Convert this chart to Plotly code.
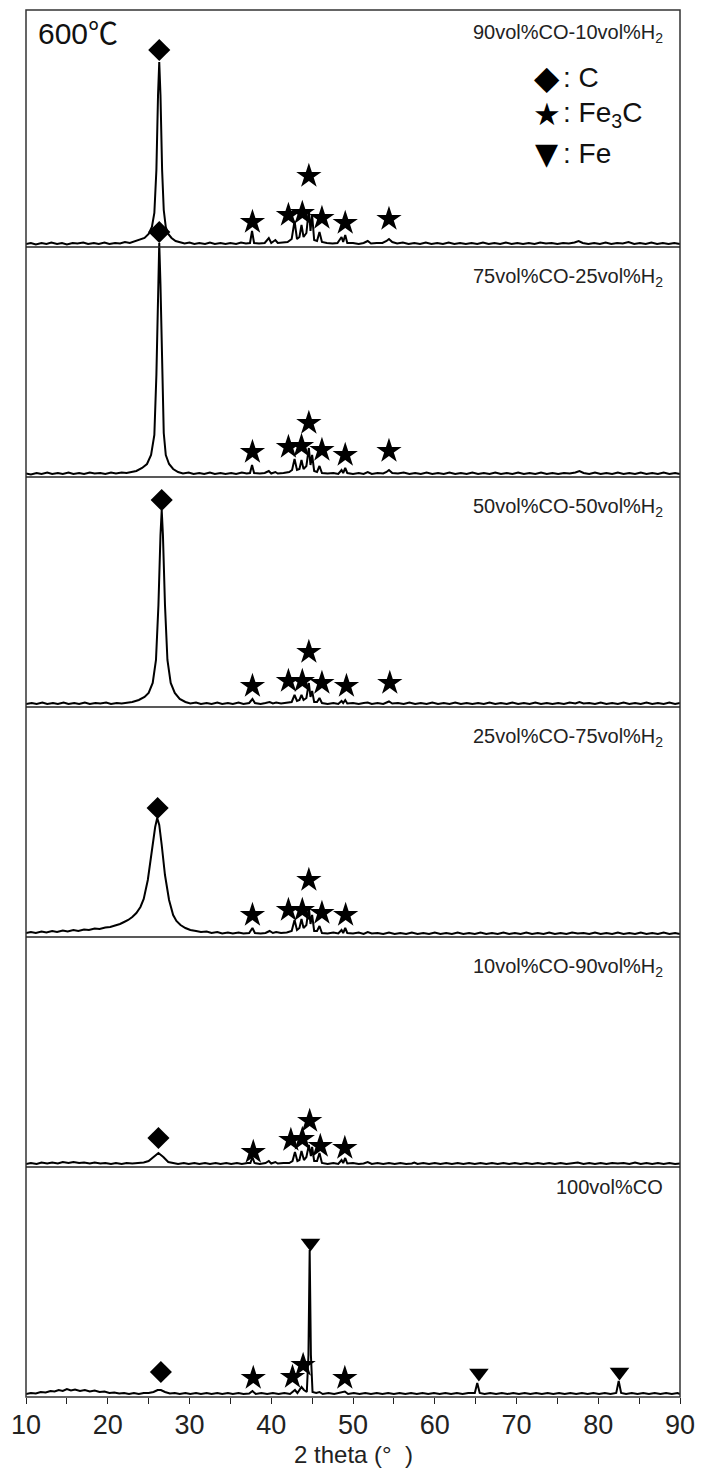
import plotly.graph_objects as go

# ---------------- data (2theta, intensity in arbitrary units) ----------------
panel_labels = ["90vol%CO-10vol%H<sub>2</sub>", "75vol%CO-25vol%H<sub>2</sub>",
                "50vol%CO-50vol%H<sub>2</sub>", "25vol%CO-75vol%H<sub>2</sub>",
                "10vol%CO-90vol%H<sub>2</sub>", "100vol%CO"]

spec_90co = [(10,1),(10.6,2),(11.2,0.5),(11.9,2),(12.5,1),(13.1,2.5),(13.8,1),(14.4,2),(15.0,0.5),(15.7,2),
    (16.3,1.5),(17.0,2.5),(17.6,1),(18.3,2),(18.9,1),(19.6,2.5),(20.2,1),(20.9,2),(21.5,1.5),(22.1,3),
    (22.7,2),(23.3,3.5),(23.9,5),(24.5,7),(25.0,11),(25.4,18),(25.7,32),(25.95,75),(26.15,150),(26.3,183),
    (26.45,150),(26.65,75),(26.85,35),(27.1,18),(27.4,11),(27.8,7),(28.3,4),(28.8,3),(29.4,1.5),(30.0,2.5),
    (30.6,1),(31.2,2),(31.9,1),(32.5,2.5),(33.1,1),(33.8,2),(34.4,1),(35.0,2),(35.7,1),(36.3,2.5),(36.9,1.5),
    (37.4,2),(37.65,14),(37.9,2),(38.5,1.5),(39.2,2),(39.7,7),(40.0,2),(40.5,5),(40.8,2),(41.4,2.5),(42.0,3),
    (42.5,6),(42.85,24),(43.15,6),(43.45,8),(43.7,20),(43.95,8),(44.3,12),(44.6,36),(44.8,14),(45.0,30),
    (45.25,5),(45.6,4),(45.9,13),(46.2,3),(46.8,2),(47.5,1.5),(48.1,2),(48.6,8),(48.8,3),(49.05,10),(49.3,2),
    (50.0,2),(50.7,1),(51.3,2),(51.8,4),(52.2,1.5),(52.9,2),(53.6,2),(54.1,4),(54.4,6),(54.8,3),(55.4,1.5),
    (56.1,2.5),(56.8,1),(57.5,2),(58.2,1),(58.9,2.5),(59.6,1),(60.3,2),(61.0,1),(61.7,2.5),(62.4,1),(63.1,2),
    (63.8,1),(64.5,2),(65.2,1),(65.9,2.5),(66.6,1),(67.3,2),(68.0,1),(68.7,2.5),(69.4,1),(70.1,2),(70.8,1),
    (71.5,2),(72.2,1),(72.9,2.5),(73.6,1.5),(74.3,2),(75.0,1),(75.7,2),(76.4,1.5),(77.1,2.5),(77.6,4),(78.1,2),
    (78.8,1),(79.5,2),(80.2,1),(80.9,2.5),(81.6,1),(82.3,2),(83.0,1.5),(83.7,3),(84.4,1),(85.1,2),(85.8,1),
    (86.5,2.5),(87.2,1),(87.9,2),(88.6,1),(89.3,2),(90,1)]

spec_75co = [(10,1.5),(10.6,0.5),(11.3,2),(11.9,1),(12.6,2.5),(13.2,1),(13.9,2),(14.5,1),(15.2,2.5),(15.8,1),
    (16.5,2),(17.1,1),(17.8,2.5),(18.4,1.5),(19.1,2),(19.7,1),(20.4,2.5),(21.0,1.5),(21.7,2.5),(22.3,2),
    (22.9,3),(23.5,4),(24.2,7),(24.8,11),(25.3,20),(25.7,40),(25.95,100),(26.15,195),(26.3,232),(26.45,190),
    (26.65,95),(26.85,42),(27.1,20),(27.5,11),(28.0,6),(28.6,3),(29.2,1.5),(29.9,2.5),(30.5,1),(31.2,2),
    (31.8,1),(32.5,2.5),(33.1,1),(33.8,2),(34.4,1),(35.1,2),(35.7,1),(36.4,2.5),(37.0,1.5),(37.4,2),(37.65,10),
    (37.9,2),(38.6,1.5),(39.2,2),(39.7,4),(40.0,1.5),(40.5,3),(40.8,1.5),(41.5,2),(42.2,3),(42.55,5),(42.85,16),
    (43.15,5),(43.45,6),(43.7,15),(43.95,6),(44.3,9),(44.6,27),(44.8,10),(45.0,20),(45.25,4),(45.6,3),(45.9,9),
    (46.2,2),(46.9,1.5),(47.6,2),(48.2,1),(48.6,5),(48.8,2),(49.05,7),(49.3,2),(50.0,1),(50.7,2),(51.3,1),
    (51.8,3),(52.3,1),(53.0,2),(53.7,1.5),(54.1,3),(54.4,5),(54.8,2),(55.5,1.5),(56.2,2.5),(56.9,1),(57.6,2),
    (58.3,1),(59.0,2.5),(59.7,1),(60.4,2),(61.1,1),(61.8,2.5),(62.5,1),(63.2,2),(63.9,1),(64.6,2.5),(65.3,1),
    (66.0,2),(66.7,1),(67.4,2.5),(68.1,1),(68.8,2),(69.5,1),(70.2,2.5),(70.9,1),(71.6,2),(72.3,1),(73.0,2.5),
    (73.7,1),(74.4,2),(75.1,1),(75.8,2),(76.5,1.5),(77.2,2.5),(77.7,4),(78.2,2),(78.9,1),(79.6,2.5),(80.3,1),
    (81.0,2),(81.7,1),(82.4,2.5),(83.1,1),(83.8,2),(84.5,1),(85.2,2.5),(85.9,1),(86.6,2),(87.3,1),(88.0,2.5),
    (88.7,1),(89.4,2),(90,1)]

spec_50co = [(10,1),(10.7,2),(11.3,1),(12.0,2.5),(12.6,1),(13.3,2),(13.9,1),(14.6,2.5),(15.2,1),(15.9,2),
    (16.5,1),(17.2,2.5),(17.8,1),(18.5,2),(19.1,1.5),(19.8,2.5),(20.4,1),(21.1,2),(21.7,1.5),(22.4,2.5),
    (23.0,3),(23.8,5),(24.5,8),(25.0,12),(25.5,22),(25.9,45),(26.2,100),(26.45,170),(26.6,195),(26.75,170),
    (27.0,100),(27.3,45),(27.7,22),(28.2,12),(28.8,6),(29.5,3),(30.1,1.5),(30.8,2.5),(31.4,1),(32.1,2),(32.7,1),
    (33.4,2.5),(34.0,1),(34.7,2),(35.3,1),(36.0,2.5),(36.6,1),(37.3,2),(37.7,6),(38.0,2),(38.7,1),(39.3,2),
    (39.8,3),(40.2,1.5),(40.6,2.5),(41.2,1.5),(41.9,2),(42.5,3),(42.85,10),(43.15,4),(43.45,5),(43.7,10),(43.95,5),
    (44.3,7),(44.6,22),(44.8,8),(45.0,14),(45.25,3),(45.6,3),(45.9,7),(46.2,2),(46.9,1),(47.6,2),(48.2,1),
    (48.6,4),(48.8,2),(49.05,5),(49.3,1.5),(50.0,2),(50.7,1),(51.3,2),(51.8,2.5),(52.3,1),(53.0,2),(53.7,1),
    (54.1,2),(54.4,3.5),(54.8,1.5),(55.5,2),(56.2,1),(56.9,2.5),(57.6,1),(58.3,2),(59.0,1),(59.7,2.5),(60.4,1),
    (61.1,2),(61.8,1),(62.5,2.5),(63.2,1),(63.9,2),(64.6,1),(65.3,2),(66.0,1),(66.7,2.5),(67.4,1),(68.1,2),
    (68.8,1),(69.5,2.5),(70.2,1),(70.9,2),(71.6,1),(72.3,2.5),(73.0,1),(73.7,2),(74.4,1),(75.1,2),(75.8,1),
    (76.5,2.5),(77.2,1.5),(77.7,3),(78.2,1.5),(78.9,2),(79.6,1),(80.3,2.5),(81.0,1),(81.7,2),(82.4,1),
    (83.1,2.5),(83.8,1),(84.5,2),(85.2,1),(85.9,2.5),(86.6,1),(87.3,2),(88.0,1),(88.7,2.5),(89.4,1),(90,2)]

spec_25co = [(10,2),(10.6,3),(11.2,2),(11.9,3.5),(12.5,2.5),(13.2,4),(13.8,3),(14.5,4.5),(15.1,3.5),(15.8,5),
    (16.4,4),(17.1,5.5),(17.7,5),(18.4,6.5),(19.0,6),(19.7,7.5),(20.3,8),(21.0,9.5),(21.5,11),(22.0,13),
    (22.5,15),(23.0,18),(23.5,22),(24.0,28),(24.4,36),(24.9,55),(25.4,85),(25.8,108),(26.05,117),(26.3,110),
    (26.6,90),(27.0,60),(27.5,35),(28.0,20),(28.4,14),(28.9,10),(29.5,7),(30.1,5),(30.8,4),(31.4,3),(32.1,3.5),
    (32.7,2),(33.4,3),(34.0,1.5),(34.7,2.5),(35.3,1.5),(36.0,2.5),(36.6,1.5),(37.3,2),(37.7,7),(38.0,2),
    (38.7,1.5),(39.3,2),(39.8,4),(40.2,2),(40.6,3),(41.2,2),(41.9,2.5),(42.5,4),(42.85,15),(43.15,5),(43.45,7),
    (43.7,16),(43.95,7),(44.3,10),(44.6,28),(44.8,11),(45.0,20),(45.25,4),(45.6,4),(45.9,9),(46.2,2),(46.9,1.5),
    (47.6,2.5),(48.2,1.5),(48.6,5),(48.8,2),(49.05,7),(49.3,2),(50.0,1.5),(50.7,2.5),(51.3,1),(51.8,3),(52.3,1.5),
    (53.0,2),(53.7,1),(54.4,2.5),(55.1,1),(55.8,2),(56.5,1),(57.2,2.5),(57.9,1),(58.6,2),(59.3,1),(60.0,2.5),
    (60.7,1),(61.4,2),(62.1,1),(62.8,2.5),(63.5,1),(64.2,2),(64.9,1),(65.6,2.5),(66.3,1),(67.0,2),(67.7,1),
    (68.4,2.5),(69.1,1),(69.8,2),(70.5,1),(71.2,2.5),(71.9,1),(72.6,2),(73.3,1),(74.0,2.5),(74.7,1),(75.4,2),
    (76.1,1),(76.8,2.5),(77.5,1.5),(78.2,2),(78.9,1),(79.6,2.5),(80.3,1),(81.0,2),(81.7,1),(82.4,2.5),
    (83.1,1),(83.8,2),(84.5,1),(85.2,2.5),(85.9,1),(86.6,2),(87.3,1),(88.0,2.5),(88.7,1),(89.4,2),(90,1)]

spec_10co = [(10,1),(10.6,2),(11.3,1),(11.9,2.5),(12.6,1.5),(13.2,2.5),(13.9,1.5),(14.5,3),(15.2,2),(15.8,3),
    (16.5,2),(17.1,2.5),(17.8,1.5),(18.4,2.5),(19.1,1.5),(19.7,2),(20.4,1),(21.0,2),(21.7,1),(22.3,2),(23.0,1.5),
    (23.7,2),(24.4,2.5),(25.0,4),(25.6,8),(26.2,12),(26.8,8),(27.4,3),(28.0,2),(28.6,1),(29.3,2),(29.9,1),(30.6,2),
    (31.2,1),(31.9,2),(32.5,1),(33.2,2),(33.8,1),(34.5,2),(35.1,1),(35.8,2),(36.4,1),(37.1,2),(37.45,2),(37.7,8),
    (37.95,2),(38.6,1),(39.3,2),(39.7,4),(40.0,1.5),(40.5,3),(40.8,1.5),(41.5,2),(42.2,2),(42.6,4),(42.9,13),
    (43.2,4),(43.45,5),(43.7,14),(44.0,5),(44.3,8),(44.6,20),(44.85,9),(45.0,18),(45.25,4),(45.6,4),(45.9,12),
    (46.2,2),(46.9,1),(47.6,2),(48.2,1),(48.6,5),(48.8,2),(49.05,7),(49.3,1.5),(50.0,2),(50.7,1),(51.3,1.5),
    (51.8,3),(52.3,1),(53.0,2),(53.7,1),(54.4,2),(55.1,1),(55.8,2),(56.5,1),(57.2,1.5),(57.5,2.5),(57.9,1),
    (58.6,2),(59.3,1),(60.0,2),(60.7,1),(61.4,2),(62.1,1),(62.8,2),(63.5,1),(64.2,2),(64.9,1),(65.6,2),(66.3,1),
    (67.0,2),(67.7,1),(68.4,2),(69.1,1),(69.8,2),(70.5,1),(71.2,2),(71.9,1),(72.6,2),(73.3,1),(74.0,2),(74.7,1),
    (75.4,2),(76.1,1),(76.8,2),(77.5,2.5),(78.2,1),(78.9,2),(79.6,1),(80.3,2),(81.0,1),(81.7,2),(82.4,1.5),
    (83.1,2),(83.8,1),(84.5,2.5),(85.2,1),(85.9,2),(86.6,1),(87.3,2),(88.0,1),(88.7,2),(89.4,1),(90,1.5)]

spec_100co = [(10,1),(10.6,2),(11.2,1.5),(11.8,3),(12.4,2.5),(13.0,4),(13.5,3.5),(14.0,5),(14.5,4),(15.0,6),
    (15.5,4.5),(16.0,5.5),(16.6,4),(17.2,5),(17.8,3.5),(18.4,4.5),(19.0,3),(19.6,3.5),(20.2,2),(20.8,2.5),
    (21.4,1.5),(22.0,2),(22.6,1),(23.2,2),(23.8,1),(24.4,2),(25.0,2),(25.6,3),(26.1,5),(26.5,5),(27.0,3),
    (27.6,1.5),(28.2,2),(28.8,1),(29.5,2),(30.1,1),(30.8,2),(31.4,1),(32.1,2),(32.7,1),(33.4,2),(34.0,1),
    (34.7,2),(35.3,1),(36.0,2),(36.6,1),(37.3,1.5),(37.7,4),(38.1,1),(38.8,2),(39.5,1),(40.2,2),(40.9,1),
    (41.6,2),(42.3,1),(42.9,5),(43.2,2),(43.7,8),(44.0,5),(44.35,3),(44.55,40),(44.7,145),(44.85,40),(45.05,3),
    (45.5,2),(45.9,3),(46.3,1),(47.0,2),(47.7,1),(48.4,2),(49.0,3.5),(49.4,1),(50.1,2),(50.8,1),(51.5,2),
    (52.2,1),(52.9,2),(53.6,1),(54.3,2),(55.0,1),(55.7,2),(56.4,1),(57.1,2),(57.8,1),(58.5,2),(59.2,1),(59.9,2),
    (60.6,1),(61.3,2),(62.0,1),(62.7,2),(63.4,1),(64.1,2),(64.9,2),(65.2,12),(65.5,2),(66.1,1),(66.8,2),(67.5,1),
    (68.2,2),(68.9,1),(69.6,2),(70.3,1),(71.0,2),(71.7,1),(72.4,2),(73.1,1),(73.8,2),(74.5,1),(75.2,2),(75.9,1),
    (76.6,2),(77.3,1),(78.0,2),(78.7,1),(79.4,2),(80.1,1),(80.8,2),(81.5,1),(82.2,2),(82.5,14),(82.8,2),(83.4,1),
    (84.1,2),(84.8,1),(85.5,2),(86.2,1),(86.9,2),(87.6,1),(88.3,2),(89.0,1),(89.7,2),(90,1)]

spectra = [spec_90co, spec_75co, spec_50co, spec_25co, spec_10co, spec_100co]

# peak markers: (2theta, height)
mark_C = [[(26.3,195)], [(26.3,243)], [(26.6,205)], [(26.1,127)], [(26.2,27)], [(26.5,23)]]
mark_Fe3C = [
    [(37.7,23),(42.1,30),(43.8,32),(44.6,69),(46.2,27),(49.05,22),(54.4,26)],
    [(37.7,23),(42.1,28),(43.7,29),(44.6,52),(46.2,25),(49.05,20),(54.4,24)],
    [(37.7,19),(42.1,24),(43.8,24),(44.6,53),(46.2,22),(49.2,19),(54.5,22)],
    [(37.7,20),(42.1,25),(43.8,25),(44.6,55),(46.2,22),(49.1,20)],
    [(37.8,13),(42.4,25),(43.8,26),(44.7,44),(46.0,19),(49.0,17)],
    [(37.8,17),(42.6,18),(43.9,30),(49.0,17)],
]
mark_Fe = [[], [], [], [], [], [(44.8,152),(65.4,22),(82.6,23)]]

x_ticks = [10, 20, 30, 40, 50, 60, 70, 80, 90]

# ---------------- layout ----------------
W, H = 705, 1472
L, R, T, B = 26, 683, 10, 1397
panel_edges = [10, 247, 477, 707, 937, 1167, 1397]
HEADROOM = 30   # px of overlap above each panel so tall marks can spill over the separator
ph = B - T
FONT = "Liberation Sans, Arial, sans-serif"

def fy(ypx):
    return (B - ypx) / ph

def fx(xpx):
    return (xpx - L) / (R - L)

fig = go.Figure()
n = len(spectra)
for i in range(n):
    ynum = 1 if i == n - 1 else i + 2
    yname = "y" if ynum == 1 else f"y{ynum}"
    axkey = "yaxis" if ynum == 1 else f"yaxis{ynum}"
    top, bot = panel_edges[i], panel_edges[i+1]
    head = HEADROOM if i > 0 else 0
    xs = [p[0] for p in spectra[i]]
    ys = [p[1] for p in spectra[i]]
    fig.add_trace(go.Scatter(x=xs, y=ys, mode="lines", xaxis="x", yaxis=yname,
                             line=dict(color="black", width=2), cliponaxis=False,
                             showlegend=False, hoverinfo="skip"))
    for marks, sym, sz in [(mark_C[i], "diamond", 17), (mark_Fe3C[i], "star", 19),
                           (mark_Fe[i], "triangle-down", 17)]:
        if marks:
            fig.add_trace(go.Scatter(x=[m[0] for m in marks], y=[m[1] for m in marks],
                                     mode="markers", xaxis="x", yaxis=yname, cliponaxis=False,
                                     marker=dict(symbol=sym, size=sz, color="black", line=dict(width=0)),
                                     showlegend=False, hoverinfo="skip"))
    fig.layout[axkey] = dict(domain=[fy(bot), fy(top - head)], range=[-2, (bot - top) - 2 + head],
                             visible=False, fixedrange=True, anchor="x")

fig.update_layout(
    width=W, height=H, margin=dict(l=L, r=W - R, t=T, b=H - B),
    paper_bgcolor="white", plot_bgcolor="rgba(0,0,0,0)",
    xaxis=dict(domain=[0, 1], range=[10, 90], anchor="y", tickvals=x_ticks,
               ticks="outside", ticklen=4, tickwidth=1.2, tickcolor="#222",
               minor=dict(dtick=5, tick0=5, ticks="outside", ticklen=6, tickwidth=1.2, tickcolor="#222"),
               showgrid=False, zeroline=False, showline=False,
               tickfont=dict(family=FONT, size=27, color="#222")),
)

shapes = [dict(type="rect", xref="paper", yref="paper", x0=0, x1=1, y0=0, y1=1,
               line=dict(color="#333", width=1.5))]
for e in panel_edges[1:-1]:
    shapes.append(dict(type="line", xref="paper", yref="paper", x0=0, x1=1, y0=fy(e), y1=fy(e),
                       line=dict(color="#222", width=1.3)))
fig.update_layout(shapes=shapes)

label_y = [33, 277, 507, 737, 967, 1187]
ann = []
for lab, ly in zip(panel_labels, label_y):
    ann.append(dict(text=lab, x=fx(668), y=fy(ly), xref="paper", yref="paper", xanchor="right",
                    yanchor="middle", showarrow=False, font=dict(family=FONT, size=20, color="#222")))
ann.append(dict(text="600℃", x=fx(36), y=fy(33), xref="paper", yref="paper", xanchor="left",
                yanchor="middle", showarrow=False,
                font=dict(family="Liberation Sans, Noto Sans CJK SC", size=30, color="#111")))
leg = [("◆", ": C", 77, 33), ("★", ": Fe<sub>3</sub>C", 114, 31), ("▼", ": Fe", 153, 30)]
for sym, txt, ly, ssz in leg:
    ann.append(dict(text=sym, x=fx(549), y=fy(ly), xref="paper", yref="paper", xanchor="center",
                    yanchor="middle", showarrow=False, font=dict(family="DejaVu Sans", size=ssz, color="black")))
    ann.append(dict(text=txt, x=fx(563), y=fy(ly), xref="paper", yref="paper", xanchor="left",
                    yanchor="middle", showarrow=False, font=dict(family=FONT, size=28, color="#111")))
# axis title
ann.append(dict(text="2 theta (°\u00a0\u00a0)", x=0.5, y=fy(1454), xref="paper", yref="paper",
                xanchor="center", yanchor="middle", showarrow=False,
                font=dict(family=FONT, size=24, color="#222")))
fig.update_layout(annotations=ann)

fig.write_html("out.html")
